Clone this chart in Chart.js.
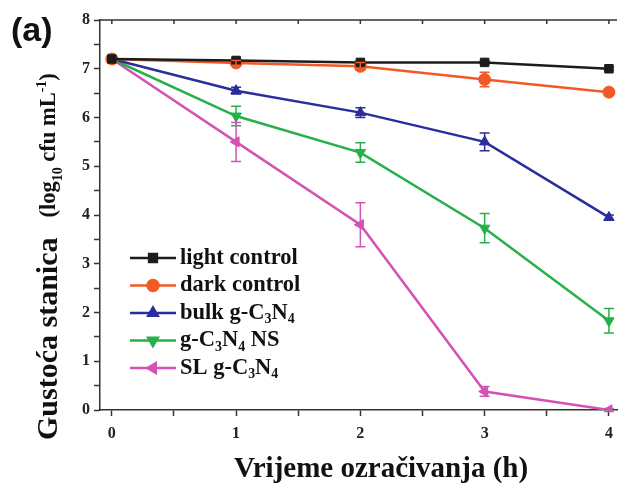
<!DOCTYPE html>
<html>
<head>
<meta charset="utf-8">
<script src="https://cdn.jsdelivr.net/npm/chart.js@4"></script>
<style>
  body { margin: 0; background: #fff; }
  #wrap { position: relative; width: 624px; height: 497px; }
</style>
</head>
<body>
<div id="wrap"><canvas id="chart" width="624" height="497"></canvas></div>
<script>
// irradiation time (h)
const hours = [0, 1, 2, 3, 4];

const lightControl = [7.2, 7.17, 7.13, 7.13, 7.0];
const darkControl = [7.2, 7.12, 7.05, 6.78, 6.52];
const bulkCN = [7.2, 6.55, 6.1, 5.5, 3.95];
const cnNS = [7.2, 6.03, 5.28, 3.73, 1.83];
const slCN = [7.2, 5.5, 3.8, 0.38, 0.0];

// error bar half-widths
const lightErr = [0, 0.03, 0.03, 0.03, 0.03];
const darkErr = [0, 0.05, 0.08, 0.15, 0.05];
const bulkErr = [0, 0.07, 0.1, 0.18, 0.05];
const nsErr = [0, 0.2, 0.2, 0.3, 0.25];
const slErr = [0, 0.4, 0.45, 0.1, 0.03];

const serif = "'Liberation Serif', 'Times New Roman', serif";

function pts(vals) {
  return hours.map((h, i) => ({ x: h, y: vals[i] }));
}

let dataSets = [
  { label: "light control", color: "#1c1c1c", data: pts(lightControl), err: lightErr,
    style: "rect", rot: 0, name: [["light control"]] },
  { label: "dark control", color: "#f25a25", data: pts(darkControl), err: darkErr,
    style: "circle", rot: 0, name: [["dark control"]] },
  { label: "bulk g-C3N4", color: "#2a2d9c", data: pts(bulkCN), err: bulkErr,
    style: "triangle", rot: 0, name: [["bulk g-C"], ["3", "sub"], ["N"], ["4", "sub"]] },
  { label: "g-C3N4 NS", color: "#27b04a", data: pts(cnNS), err: nsErr,
    style: "triangle", rot: 180, name: [["g-C"], ["3", "sub"], ["N"], ["4", "sub"], [" NS"]] },
  { label: "SL g-C3N4", color: "#d452b4", data: pts(slCN), err: slErr,
    style: "triangle", rot: -90, name: [["SL g-C"], ["3", "sub"], ["N"], ["4", "sub"]] },
];

// draws text pieces with sub/superscripts, returns end x
function drawRich(ctx, parts, x, y, size) {
  parts.forEach((p) => {
    let s = size, dy = 0;
    if (p[1] === "sub") { s = size * 0.62; dy = size * 0.3; }
    if (p[1] === "sup") { s = size * 0.62; dy = -size * 0.42; }
    ctx.font = "bold " + s + "px " + serif;
    ctx.fillText(p[0], x, y + dy);
    x += ctx.measureText(p[0]).width;
  });
  return x;
}

const extras = {
  id: "extras",
  afterDatasetsDraw(chart) {
    const ctx = chart.ctx;
    const xs = chart.scales.x, ys = chart.scales.y;
    ctx.save();
    // error bars
    chart.data.datasets.forEach((ds) => {
      ctx.strokeStyle = ds.borderColor;
      ctx.lineWidth = 1.5;
      ds.data.forEach((p, i) => {
        const e = ds.err[i];
        if (!e) return;
        const px = xs.getPixelForValue(p.x);
        const top = ys.getPixelForValue(p.y + e);
        const bot = ys.getPixelForValue(p.y - e);
        ctx.beginPath();
        ctx.moveTo(px, top); ctx.lineTo(px, bot);
        ctx.moveTo(px - 5, top); ctx.lineTo(px + 5, top);
        ctx.moveTo(px - 5, bot); ctx.lineTo(px + 5, bot);
        ctx.stroke();
      });
    });
    ctx.restore();
  },
  afterDraw(chart) {
    const ctx = chart.ctx;
    const area = chart.chartArea;
    const xs = chart.scales.x;
    ctx.save();
    // top frame with inward ticks
    ctx.strokeStyle = "#333";
    ctx.lineWidth = 1.5;
    ctx.beginPath();
    ctx.moveTo(area.left, area.top); ctx.lineTo(area.right, area.top);
    xs.ticks.forEach((t) => {
      const px = xs.getPixelForValue(t.value);
      ctx.moveTo(px, area.top); ctx.lineTo(px, area.top + 4);
    });
    ctx.stroke();

    // legend
    ctx.fillStyle = "#111";
    ctx.textBaseline = "middle";
    chart.data.datasets.forEach((ds, i) => {
      const y = 258 + i * 27.5;
      ctx.strokeStyle = ds.borderColor;
      ctx.lineWidth = 2.5;
      ctx.beginPath();
      ctx.moveTo(130, y); ctx.lineTo(176, y);
      ctx.stroke();
      ctx.fillStyle = ds.borderColor;
      Chart.helpers.drawPoint(ctx, { pointStyle: ds.pointStyle, radius: 5.5, rotation: ds.pointRotation, borderWidth: 1 }, 153, y);
      ctx.fillStyle = "#111";
      drawRich(ctx, ds.name, 180, y, 22.5);
    });

    // axis titles
    ctx.textBaseline = "alphabetic";
    ctx.font = "bold 29px " + serif;
    ctx.textAlign = "center";
    ctx.fillText("Vrijeme ozračivanja (h)", 381, 477);
    ctx.textAlign = "left";

    ctx.translate(57, 440);
    ctx.rotate(-Math.PI / 2);
    let end = drawRich(ctx, [["Gustoća stanica"]], 0, 0, 30);
    drawRich(ctx, [["(log"], ["10", "sub"], [" cfu mL"], ["-1", "sup"], [")"]], end + 20, -2, 22.5);
    ctx.restore();

    ctx.save();
    ctx.fillStyle = "#111";
    ctx.font = "bold 34px 'Liberation Sans', Arial, sans-serif";
    ctx.fillText("(a)", 11, 41);
    ctx.restore();
  },
};

const tickFont = { family: serif, size: 16, weight: "bold" };

new Chart(document.getElementById("chart"), {
  type: "line",
  data: {
    datasets: dataSets.map((d) => ({
      label: d.label,
      data: d.data,
      err: d.err,
      name: d.name,
      borderColor: d.color,
      backgroundColor: d.color,
      borderWidth: 2.5,
      pointStyle: d.style,
      pointRotation: d.rot,
      pointRadius: 6,
      pointHoverRadius: 6,
      pointBorderWidth: 1,
      tension: 0,
    })),
  },
  options: {
    responsive: false,
    animation: false,
    layout: { padding: { top: 20, left: 0, right: 0, bottom: 0 } },
    plugins: { legend: { display: false }, tooltip: { enabled: false } },
    scales: {
      x: {
        type: "linear",
        min: -0.095,
        max: 4.065,
        afterFit: (s) => { s.height = 87; },
        border: { color: "#333", width: 1.5 },
        grid: { drawOnChartArea: false, tickLength: 6, color: "#333", tickWidth: 1.5 },
        ticks: {
          stepSize: 0.5,
          includeBounds: false,
          autoSkip: false,
          maxRotation: 0,
          padding: 8,
          color: "#222",
          font: tickFont,
          callback: (v) => (Number.isInteger(v) ? v : ""),
        },
      },
      y: {
        min: 0,
        max: 8,
        afterFit: (s) => { s.width = 100; },
        border: { color: "#333", width: 1.5 },
        grid: { drawOnChartArea: false, tickLength: 6, color: "#333", tickWidth: 1.5 },
        ticks: {
          stepSize: 0.5,
          autoSkip: false,
          padding: 4,
          color: "#222",
          font: tickFont,
          callback: (v) => (Number.isInteger(v) ? v : ""),
        },
      },
    },
  },
  plugins: [extras],
});
</script>
</body>
</html>
